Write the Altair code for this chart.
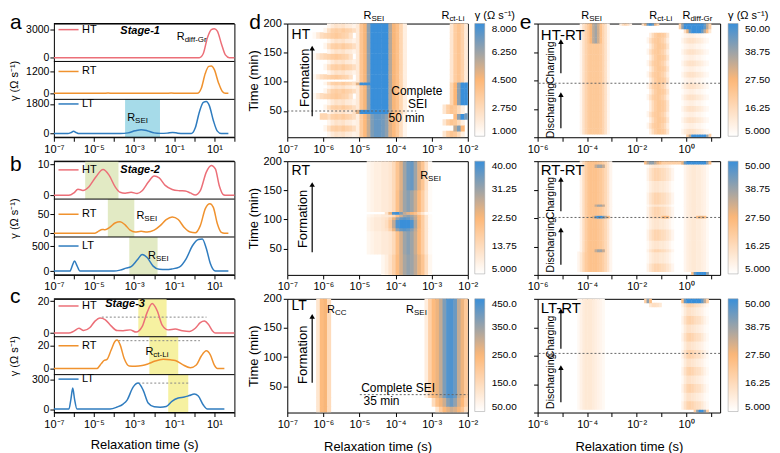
import altair as alt
import pandas as pd

FONT = "Liberation Sans"
WA, WD, WE, H = 181, 181, 183, 114

HT_COLOR, RT_COLOR, LT_COLOR = "#ec6f78", "#f0922e", "#2f7cbf"
CYAN, GREEN, YELLOW = "#a6dbe9", "#e2eac4", "#f6f1a1"

# ===================== a-c : DRT traces  [log10(tau/s), gamma] =====================
A_HT = [[-7, 0], [0.25, 0], [0.45, 450], [0.65, 2100], [0.85, 3000], [1.0, 3100], [1.15, 2850],
        [1.35, 1500], [1.55, 300], [1.75, 0], [2, 0]]
A_RT = [[-7, 0], [-4.55, 0], [-4.3, 18], [-4.05, 0], [-1.45, 0], [-1.15, 22], [-0.85, 0], [0.15, 0],
        [0.35, 280], [0.55, 1100], [0.72, 1480], [0.85, 1500], [1.0, 1300], [1.2, 600], [1.4, 100],
        [1.55, 0], [1.7, 0]]
A_LT = [[-7, 0], [-6.3, 0], [-6.15, 60], [-6.02, 140], [-5.88, 60], [-5.75, 0], [-3.7, 0], [-3.3, 45],
        [-2.95, 170], [-2.65, 240], [-2.35, 180], [-2.0, 45], [-1.7, 15], [-1.35, 30], [-1.08, 75],
        [-0.82, 25], [-0.55, 0], [-0.15, 0], [0.05, 350], [0.25, 1300], [0.45, 1900], [0.6, 1950],
        [0.75, 1700], [0.95, 800], [1.15, 150], [1.35, 0], [1.7, 0]]

B_HT = [[-7, 0], [-6.25, 0], [-6.0, 0.8], [-5.8, 2.0], [-5.55, 1.6], [-5.25, 2.8], [-4.9, 6.0],
        [-4.55, 8.3], [-4.25, 6.5], [-3.95, 2.8], [-3.7, 1.0], [-3.45, 0.7], [-3.15, 1.0], [-2.85, 0.6],
        [-2.6, 1.5], [-2.3, 4.2], [-2.0, 6.2], [-1.75, 5.6], [-1.45, 3.2], [-1.1, 1.9], [-0.75, 1.5],
        [-0.45, 1.4], [-0.2, 0.8], [0.05, 0.1], [0.3, 1.5], [0.6, 7.5], [0.85, 9.6], [1.05, 8.5],
        [1.25, 3.0], [1.45, 0.2], [1.6, 0], [2, 0]]
B_RT = [[-7, 0], [-4.95, 0], [-4.75, 6], [-4.6, 10], [-4.45, 9], [-4.2, 16], [-3.95, 27], [-3.7, 30],
        [-3.45, 22], [-3.2, 8], [-2.95, 3], [-2.65, 5], [-2.35, 3], [-2.0, 8], [-1.7, 20], [-1.4, 36],
        [-1.1, 43], [-0.8, 36], [-0.5, 15], [-0.2, 3], [0.05, 1], [0.3, 20], [0.55, 65], [0.78, 78],
        [0.95, 68], [1.15, 25], [1.35, 2], [1.5, 0], [1.7, 0]]
B_LT = [[-7, 0], [-6.2, 0], [-6.08, 110], [-5.97, 200], [-5.85, 110], [-5.7, 0], [-4.0, 0], [-3.7, 20],
        [-3.4, 60], [-3.15, 90], [-2.85, 220], [-2.6, 330], [-2.35, 270], [-2.05, 100], [-1.75, 35],
        [-1.4, 30], [-1.1, 45], [-0.75, 80], [-0.4, 250], [-0.1, 500], [0.2, 630], [0.4, 640],
        [0.6, 450], [0.8, 150], [1.0, 10], [1.1, 0], [1.7, 0]]

C_HT = [[-7, 0], [-6.25, 0], [-6.0, 1.2], [-5.75, 3.0], [-5.52, 1.6], [-5.2, 3.5], [-4.95, 7.5],
        [-4.7, 9.5], [-4.45, 8.5], [-4.15, 4.5], [-3.85, 1.6], [-3.55, 1.5], [-3.2, 2.0], [-2.9, 0.6],
        [-2.6, 4], [-2.35, 13], [-2.1, 18.5], [-1.85, 14], [-1.6, 5], [-1.3, 2.0], [-0.95, 2.5],
        [-0.6, 1.5], [-0.25, 1.0], [0.05, 3], [0.3, 6.5], [0.5, 7.5], [0.7, 5.5], [0.9, 1.5],
        [1.05, 0], [2, 0]]
C_RT = [[-7, 0], [-4.85, 0], [-4.65, 4], [-4.5, 7], [-4.35, 8], [-4.15, 16], [-3.95, 24], [-3.85, 25],
        [-3.7, 21], [-3.5, 9], [-3.25, 2.2], [-2.95, 2.0], [-2.6, 2.5], [-2.3, 4], [-1.95, 6.5],
        [-1.55, 8], [-1.2, 7.6], [-0.95, 7], [-0.6, 3.5], [-0.2, 0.6], [0.1, 3], [0.35, 11],
        [0.6, 15.5], [0.8, 12], [1.0, 3], [1.15, 0], [1.5, 0]]
C_LT = [[-7, 0], [-6.25, 0], [-6.15, 100], [-6.06, 210], [-5.97, 100], [-5.85, 0], [-4.2, 0],
        [-3.85, 20], [-3.55, 50], [-3.35, 90], [-3.05, 220], [-2.8, 260], [-2.55, 190], [-2.3, 60],
        [-2.0, 22], [-1.7, 18], [-1.4, 25], [-1.1, 80], [-0.8, 110], [-0.5, 120], [-0.25, 135],
        [0.0, 150], [0.2, 130], [0.45, 40], [0.65, 0], [1.5, 0]]

TRACE_DOM = {"a": {"HT": [-400, 3650], "RT": [-330, 1750], "LT": [-220, 2080]},
             "b": {"HT": [-1.2, 11], "RT": [-10, 90], "LT": [-75, 680]},
             "c": {"HT": [-2.3, 21.5], "RT": [-5.5, 28], "LT": [-35, 345]}}
TRACE_TICK = {"a": {"HT": 3000, "RT": 1200, "LT": 1800},
              "b": {"HT": 10, "RT": 50, "LT": 500},
              "c": {"HT": 20, "RT": 20, "LT": 300}}
LEGEND_Y = {"a": {"HT": 3000, "RT": 1200, "LT": 1800},
            "b": {"HT": 8.2, "RT": 50, "LT": 500},
            "c": {"HT": 17, "RT": 20, "LT": 300}}
BOXES = {"a": {"LT": [-3.45, -1.71]},
         "b": {"HT": [-5.44, -3.78], "RT": [-4.31, -2.99], "LT": [-3.24, -1.83]},
         "c": {"HT": [-2.79, -1.38], "RT": [-2.24, -0.80], "LT": [-1.30, -0.30]}}
BOX_COLOR = {"a": CYAN, "b": GREEN, "c": YELLOW}
DOTTED = {"c": {"HT": [-4.61, 0.61, 10], "RT": [-3.78, 0.28, 24.5], "LT": [-2.79, -0.3, 260]}}
STAGE = {"a": ["Stage-1", -2.7, 2900], "b": ["Stage-2", -2.7, 8.3], "c": ["Stage-3", -3.45, 18]}
R_LABELS = {"a": [["HT", -0.48, 2250, "diff-Gr"], ["LT", -2.95, 950, "SEI"]],
            "b": [["RT", -2.49, 45, "SEI"], ["LT", -1.91, 300, "SEI"]],
            "c": [["RT", -2.04, 14.5, "ct-Li"]]}
LETTER_Y = {"a": 5, "b": 10, "c": 4}

# ===================== d : heat maps (cells of 0.1 decade) =====================
D1_SEG = {
    "main": (-5.1, [2.0, 3.8, 4.6, 6.5, 8, 8, 8, 8, 8, 5.8, 4.6, 4.0, 3.0, 1.8]),
    "mainlo": (-5.1, [1.8, 3.5, 4.4, 5.5, 6.8, 7.2, 7.2, 7.0, 6.5, 5.0, 4.3, 3.6, 2.6, 1.5]),
    "mainwd": (-5.2, [2.5, 5.0, 8, 8, 8, 8, 8, 8, 8, 8, 5.8, 4.6, 4.0, 3.0, 1.8]),
    "fa": (-6.0, [1.5, 2.5, 3.2, 3.4, 3.2, 3.5, 3.2, 3.0, 2.6]),
    "fb": (-5.9, [1.5, 2.0, 2.4, 2.2, 2.4, 2.0, 1.9, 1.6]),
    "fc": (-6.3, [1.3, 2.0, 2.6, 2.9, 3.1, 3.4, 3.6, 3.4, 3.2, 3.0, 2.4]),
    "blip": (-6.1, [3.0, 3.0]),
    "rct": (-2.5, [2.2, 3.4, 3.8, 3.2, 2.0]),
    "rctblob": (-2.5, [3.0, 4.5, 6.5, 8, 8]),
    "rctmid": (-2.7, [2.2, 3.3, 3.8, 3.6, 2.8, 1.8]),
    "rctlow": (-2.4, [4.2, 6.5, 8, 7]),
    "rctlow2": (-2.4, [5.5, 6.8, 4.5]),
}
D1_ROWS = [
    (5, 15, ["fb", "mainlo", "rctmid"]), (15, 25, ["fa", "mainlo", "rctlow2"]),
    (25, 35, ["fb", "mainlo", "rctmid"]), (35, 45, ["fa", "mainlo", "rctlow", "blip"]),
    (45, 52, ["fb", "mainwd", "rctmid"]), (52, 60, ["fa", "main", "rctmid"]),
    (60, 70, ["fb", "main", "rctblob"]), (70, 80, ["fc", "main", "rctblob"]),
    (80, 88, ["fa", "main", "rctblob"]), (88, 94, ["fb", "main", "rctblob"]),
    (94, 99, ["fa", "mainwd", "rctblob"]), (99, 104, ["main", "rct"]),
    (104, 112, ["fc", "main", "rct"]), (112, 120, ["fb", "main", "rct"]),
    (120, 130, ["fa", "main", "rct"]), (130, 138, ["fb", "main", "rct"]),
    (138, 148, ["fc", "main", "rct"]), (148, 156, ["fb", "main", "rct"]),
    (156, 166, ["fa", "main", "rct"]), (166, 174, ["fb", "main", "rct"]),
    (174, 184, ["fc", "main", "rct"]), (184, 192, ["fa", "main", "rct"]),
    (192, 200, ["fb", "main", "rct"]),
]
D2_SEG = {
    "band": (-4.8, [7, 8, 9, 9, 10, 10, 11, 14, 20, 26, 31, 33, 31, 27, 22, 17, 11, 6]),
    "top": (-4.8, [7, 8, 9, 9, 10, 10, 11, 14, 19, 25, 31, 35, 36, 31, 25, 19, 12, 6]),
    "mid": (-4.8, [8, 9, 10, 10, 11, 12, 16, 24, 32, 36, 37, 36, 33, 28, 22, 17, 11, 6]),
    "blob": (-4.8, [8, 9, 10, 10, 11, 13, 18, 28, 38, 40, 40, 40, 38, 30, 23, 17, 11, 6]),
    "streak": (-4.3, [12, 24, 38, 40, 34, 28, 25, 23, 20, 16, 11, 6]),
    "low": (-4.4, [7, 9, 12, 16, 21, 26, 30, 32, 31, 28, 24, 19, 13, 7]),
}
D2_ROWS = [(5, 40, ["low"]), (40, 80, ["band"]), (80, 85, ["mid"]), (85, 99, ["blob"]),
           (99, 104, ["mid"]), (104, 108, ["band"]), (108, 113, ["streak"]), (113, 150, ["band"]),
           (150, 200, ["top"])]
D3_SEG = {
    "cc": (-6.2, [120, 240, 255, 150]),
    "sei": (-3.2, [100, 180, 240, 265, 310, 380, 425, 430, 400, 310, 265, 200]),
    "seilo": (-3.0, [150, 220, 260, 300, 370, 400, 360, 290, 250, 180]),
    "seilo2": (-2.9, [120, 190, 245, 275, 300, 285, 255, 210, 140]),
}
D3_ROWS = [(5, 15, ["cc", "seilo2"]), (15, 30, ["cc", "seilo"]), (30, 200, ["cc", "sei"])]

# ===================== e : heat maps =====================
E1_SEG = {
    "sei": (-4.3, [8, 14, 18, 21, 22, 22, 22, 22, 21, 18, 14, 8]),
    "seit": (-4.3, [8, 14, 18, 22, 28, 35, 38, 33, 24, 18, 14, 8]),
    "sei2": (-2.7, [10, 16, 18, 15, 9]),
    "rct": (-1.5, [10, 16, 20, 22, 22, 21, 19, 13]),
    "rctw": (-1.6, [8, 14, 19, 21, 22, 21, 19, 16, 10]),
    "rctt": (-1.8, [15, 30, 45, 50, 45, 30, 18]),
    "difs": (-0.2, [8, 11, 13, 14, 14, 13, 12, 11, 10, 8, 7]),
    "difw": (-0.2, [6, 8, 9, 10, 10, 9, 8, 8, 7, 6, 5]),
    "blob": (-0.3, [20, 40, 50, 50, 50, 50, 50, 50, 50, 50, 45, 35, 20]),
    "bloblo": (-0.1, [15, 30, 45, 50, 50, 50, 50, 45, 35, 25, 12]),
    "bot": (0.0, [20, 35, 50, 50, 50, 50, 50, 50, 40, 20]),
}
E1_ROWS = [
    (0, 5, ["bot"]), (5, 15, ["sei", "rct", "difs"]), (15, 25, ["sei", "rctw", "difw"]),
    (25, 35, ["sei", "rct", "difs"]), (35, 45, ["sei", "rctw", "difw"]), (45, 55, ["sei", "rct", "difs"]),
    (55, 65, ["sei", "rct", "difw"]), (65, 75, ["sei", "rctw", "difs"]), (75, 85, ["sei", "rct", "difw"]),
    (85, 95, ["sei", "rctw", "difs"]), (95, 105, ["sei", "rct", "difw"]), (105, 115, ["sei", "rctw", "difs"]),
    (115, 125, ["sei", "rct", "difw"]), (125, 135, ["sei", "rctw", "difs"]), (135, 145, ["sei", "rct", "difw"]),
    (145, 155, ["sei", "rctw", "difs"]), (155, 165, ["sei", "rct", "difw"]), (165, 175, ["seit", "rctw", "difs"]),
    (175, 183, ["seit", "rct", "difw"]), (183, 190, ["seit", "bloblo"]), (190, 196, ["seit", "blob"]),
    (196, 200, ["seit", "sei2", "rctt", "blob"]),
]
E2_SEG = {
    "sei": (-4.3, [9, 15, 20, 23, 24, 24, 24, 23, 22, 20, 17, 13, 8]),
    "seiw": (-4.4, [8, 12, 17, 21, 23, 24, 24, 24, 23, 22, 20, 17, 13, 8]),
    "blue": (-3.8, [30, 45, 50, 50, 45, 35, 25]),
    "gray": (-3.7, [34, 38, 38, 34]),
    "rct": (-1.6, [9, 13, 16, 18, 18, 17, 16, 15, 13, 11, 8]),
    "rctw": (-1.6, [7, 10, 12, 13, 13, 12, 12, 11, 10, 8, 6]),
    "dif": (-0.1, [8, 10, 11, 12, 12, 11, 11, 10, 9, 7]),
    "spot1": (-1.0, [25, 28, 25]),
    "spot2": (0.4, [25, 30, 30, 25]),
    "strip": (-1.7, [25, 35, 40, 40, 35, 30, 25, 20, 20, 20, 20, 20, 20, 20, 20, 20, 25]),
    "blob": (-0.2, [30, 45, 50, 50, 50, 50, 50, 50, 50, 50, 40, 25]),
    "bot": (0.2, [25, 45, 50, 50, 50, 50, 40]),
}
E2_ROWS = [
    (0, 5, ["bot"]), (5, 20, ["seiw", "rct", "dif"]), (20, 40, ["seiw", "rctw", "dif"]),
    (40, 45, ["sei", "gray", "rct", "dif"]), (45, 60, ["sei", "rctw", "dif"]), (60, 80, ["sei", "rct", "dif"]),
    (80, 99, ["sei", "rctw", "dif"]), (99, 104, ["sei", "blue", "rct", "spot1", "dif", "spot2"]),
    (104, 120, ["sei", "rct", "dif"]), (120, 124, ["sei", "gray", "rctw", "dif"]),
    (124, 145, ["sei", "rct", "dif"]), (145, 165, ["sei", "rctw", "dif"]), (165, 188, ["sei", "rct", "dif"]),
    (188, 194, ["sei", "gray", "rctw", "dif"]), (194, 200, ["sei", "strip", "blob"]),
]
E3_SEG = {
    "sei": (-4.4, [7, 9, 11, 12, 12, 12, 11, 10, 9, 8, 7]),
    "dif": (-0.2, [9, 14, 18, 19, 18, 16, 15, 14, 12, 9, 7]),
    "difw": (-0.2, [7, 11, 14, 14, 13, 12, 11, 10, 9, 7, 6]),
    "blob": (-0.2, [25, 45, 50, 50, 50, 50, 50, 50, 45, 35, 20]),
    "bot": (0.3, [20, 40, 50, 50, 40, 20]),
    "rctt": (-1.7, [20, 40, 25]),
    "rctt2": (-1.5, [12, 15, 15, 14, 12]),
}
E3_ROWS = [
    (0, 5, ["bot"]), (5, 20, ["sei", "dif"]), (20, 35, ["sei", "difw"]), (35, 50, ["sei", "dif"]),
    (50, 65, ["sei", "difw"]), (65, 80, ["sei", "dif"]), (80, 95, ["sei", "difw"]), (95, 110, ["sei", "dif"]),
    (110, 125, ["sei", "difw"]), (125, 140, ["sei", "dif"]), (140, 155, ["sei", "difw"]),
    (155, 170, ["sei", "dif"]), (170, 185, ["sei", "difw"]), (185, 192, ["sei", "rctt2", "dif"]),
    (192, 200, ["sei", "rctt", "blob"]),
]

CDOM = {"d1": [1, 4.5, 8], "d2": [5, 22.5, 40], "d3": [50, 250, 450], "e": [5, 27.5, 50]}
CTICKS = {"d1": [1, 2.75, 4.5, 6.25, 8], "d2": [5, 13.75, 22.5, 31.25, 40],
          "d3": [50, 150, 250, 350, 450], "e": [5, 16.25, 27.5, 38.75, 50]}
CRANGE = ["#ffffff", "#fdb777", "#3a8fd9"]
GAMMA = "γ (Ω s⁻¹)"

# annotations: (text, log10 tau, time, size, angle, align)
NOTES = {
    "d1": dict(texts=[("HT", -6.88, 180, 14, 0, "left"), ("Formation", -6.51, 107, 13, 270, "center"),
                      ("Complete", -3.41, 84, 12, 0, "center"), ("SEI", -3.39, 62.5, 12, 0, "center"),
                      ("50 min", -3.70, 37.6, 12, 0, "center")],
               rlabels=[(-4.67, 213.5, "SEI"), (-2.51, 213.5, "ct-Li")], arrows=[(-6.31, 41, 158)],
               dotted=[(-7, -3.43, 50)], full=[]),
    "d2": dict(texts=[("RT", -6.88, 184, 14, 0, "left"), ("Formation", -6.56, 101, 13, 270, "center")],
               rlabels=[(-3.1, 174.5, "SEI")], arrows=[(-6.31, 44, 160)], dotted=[], full=[]),
    "d3": dict(texts=[("LT", -6.88, 187, 14, 0, "left"), ("Formation", -6.56, 104, 13, 270, "center"),
                      ("Complete SEI", -3.93, 47, 12, 0, "center"), ("35 min", -4.39, 24, 12, 0, "center")],
               rlabels=[(-5.68, 180.5, "CC"), (-3.49, 180.5, "SEI")], arrows=[(-6.31, 56, 170)],
               dotted=[(-4.99, -2.0, 35.7)], full=[]),
    "e1": dict(texts=[("HT-RT", -5.87, 180, 15, 0, "left"), ("Charging", -5.44, 131, 10.5, 270, "center"),
                      ("Discharging", -5.44, 47, 10.5, 270, "center")],
               rlabels=[(-3.92, 214, "SEI"), (-1.17, 214, "ct-Li"), (0.17, 214, "diff-Gr")],
               arrows=[(-5.06, 112.5, 168), (-5.06, 16, 75)], dotted=[], full=[95]),
    "e2": dict(texts=[("RT-RT", -5.87, 184, 15, 0, "left"), ("Charging", -5.44, 135, 10.5, 270, "center"),
                      ("Discharging", -5.44, 53, 10.5, 270, "center")],
               rlabels=[], arrows=[(-5.06, 112, 168), (-5.06, 18, 79)], dotted=[], full=[101]),
    "e3": dict(texts=[("LT-RT", -5.87, 184, 15, 0, "left"), ("Charging", -5.44, 133, 10.5, 270, "center"),
                      ("Discharging", -5.44, 55, 10.5, 270, "center")],
               rlabels=[], arrows=[(-5.06, 112, 179), (-5.06, 18, 79)], dotted=[], full=[104]),
}

# ===================== helpers =====================
SUP = str.maketrans("-0123456789", "⁻⁰¹²³⁴⁵⁶⁷⁸⁹")


def label_expr(shown):
    shown = list(shown)
    arr = ",".join("'10%s'" % str(e).translate(SUP) if e in shown else "''" for e in range(-8, 4))
    return "[" + arr + "][round(log(datum.value)/LN10)+8]"


class Ctx:
    """scales + axes shared by every layer of one panel"""

    def __init__(self, xs, ys, xax, yax):
        self.xs, self.ys, self.xax, self.yax = xs, ys, xax, yax

    def X(self, f):
        return alt.X(f, scale=self.xs, axis=self.xax)

    def Y(self, f):
        return alt.Y(f, scale=self.ys, axis=self.yax)


def txt(c, xe, y, s, size=11, **kw):
    df = pd.DataFrame({"x": [10.0 ** xe], "y": [y], "s": [s]})
    return alt.Chart(df).mark_text(fontSize=size, font=FONT, color="black", **kw).encode(
        x=c.X("x:Q"), y=c.Y("y:Q"), text="s:N")


def rlab(c, xe, y, sub, size=11):
    return [txt(c, xe, y, "R", size, align="right"),
            txt(c, xe, y, sub, 8, align="left", dy=3)]


def hrule(c, x0, x1, y, **kw):
    df = pd.DataFrame({"x": [10.0 ** x0], "x2": [10.0 ** x1], "y": [y]})
    return alt.Chart(df).mark_rule(**kw).encode(x=c.X("x:Q"), x2="x2:Q", y=c.Y("y:Q"))


def fullrule(c, y, **kw):
    df = pd.DataFrame({"y": [y]})
    return alt.Chart(df).mark_rule(**kw).encode(y=c.Y("y:Q"))


def arrow(c, xe, t0, t1):
    df = pd.DataFrame({"x": [10.0 ** xe], "y": [t0], "y2": [t1]})
    line = alt.Chart(df).mark_rule(color="black", strokeWidth=1.2).encode(
        x=c.X("x:Q"), y=c.Y("y:Q"), y2="y2:Q")
    head = alt.Chart(df).mark_point(shape="triangle-up", filled=True, size=30, color="black",
                                    opacity=1).encode(x=c.X("x:Q"), y=c.Y("y2:Q"))
    return [line, head]


LETTER_SIZE = 21


def letter(s, px, py, opacity=1):
    df = pd.DataFrame({"s": [s]})
    return alt.Chart(df).mark_text(fontSize=LETTER_SIZE, font=FONT, align="left", baseline="alphabetic",
                                   color="black", opacity=opacity).encode(
        x=alt.value(px), y=alt.value(py), text="s:N")


SPACER_Y = 5   # invisible text that gives every column the same top edge

RANGES = {"HT": [38, 0], "RT": [76, 38], "LT": [114, 76]}


def trace_group(key, traces, xtitle):
    xs = alt.Scale(type="log", domain=[1e-7, 1e2], nice=False)
    xax = alt.Axis(values=[10.0 ** e for e in range(-7, 3)], labelExpr=label_expr([-7, -5, -3, -1, 1]),
                   title=xtitle, labelFlush=False, labelOverlap=False, titleFontSize=13, titlePadding=9)
    subs = []
    for name, pts, color in traces:
        lo, hi = TRACE_DOM[key][name]
        ys = alt.Scale(domain=[lo, hi], range=RANGES[name], nice=False, zero=False)
        common = dict(orient="left", values=[0, TRACE_TICK[key][name]], format="d", labelPadding=1,
                      labelFontSize=10.5)
        if name == "RT":
            yax = alt.Axis(title=GAMMA, titleX=-34, titleY=57, titleFontSize=11, **common)
        else:
            yax = alt.Axis(title=None, **common)
        c = Ctx(xs, ys, xax, yax)
        L = []
        if name in BOXES[key]:
            b = BOXES[key][name]
            df = pd.DataFrame({"x": [10.0 ** b[0]], "x2": [10.0 ** b[1]], "y": [hi], "y2": [lo]})
            L.append(alt.Chart(df).mark_rect(color=BOX_COLOR[key]).encode(
                x=c.X("x:Q"), x2="x2:Q", y=c.Y("y:Q"), y2="y2:Q"))
        if key in DOTTED:
            d = DOTTED[key][name]
            L.append(hrule(c, d[0], d[1], d[2], color="#888888", strokeDash=[2, 2], strokeWidth=1))
        df = pd.DataFrame({"x": [10.0 ** p[0] for p in pts], "y": [p[1] for p in pts]})
        L.append(alt.Chart(df).mark_line(color=color, strokeWidth=1.5, interpolate="monotone").encode(
            x=c.X("x:Q"), y=c.Y("y:Q")))
        ly = LEGEND_Y[key][name]
        L.append(hrule(c, -6.77, -5.77, ly, color=color, strokeWidth=1.5))
        L.append(txt(c, -5.6, ly, name, 11, align="left"))
        if name == "HT":
            s, xe, y = STAGE[key]
            L.append(txt(c, xe, y, s, 11, fontStyle="italic", fontWeight="bold"))
        for sub, xe, y, lab in R_LABELS[key]:
            if sub == name:
                L += rlab(c, xe, y, lab)
        L.append(fullrule(c, hi, color="black", strokeWidth=1))
        if name == "LT":
            L.append(fullrule(c, lo, color="black", strokeWidth=1))
        subs.append(alt.layer(*L))
    subs.append(letter(key, -44, LETTER_Y[key]))
    if key == "a":
        subs.append(letter("a", 0, SPACER_Y, opacity=0))
    return alt.layer(*subs).resolve_scale(y="independent").properties(width=WA, height=H)


XS_D = alt.Scale(type="log", domain=[1e-7, 1e-2], nice=False)
YS_D = alt.Scale(domain=[5, 200], nice=False, zero=False)
XS_E = alt.Scale(type="log", domain=[1e-6, 10 ** 1.37], nice=False)
YS_E = alt.Scale(domain=[0, 200], nice=False, zero=False)


def heat(key, kind, rows, segs, ckey, legtitle, legY, xtitle, let=None):
    if kind == "D":
        xs, ys, width, legX = XS_D, YS_D, WD, 188
        xax = alt.Axis(values=[10.0 ** e for e in range(-7, -1)], labelExpr=label_expr(range(-7, -1)),
                       title=xtitle, labelFlush=False, labelOverlap=False, titleFontSize=13, titlePadding=11)
        yax = alt.Axis(values=[50, 100, 150, 200], title="Time (min)", titleFontSize=13, titlePadding=2)
    else:
        xs, ys, width, legX = XS_E, YS_E, WE, 191
        xax = alt.Axis(values=[10.0 ** e for e in range(-6, 2)], labelExpr=label_expr([-6, -4, -2, 0]),
                       title=xtitle, labelFlush=False, labelOverlap=False, titleFontSize=13, titlePadding=11)
        yax = alt.Axis(values=[0, 50, 100, 150, 200], labels=False, title=None)
    c = Ctx(xs, ys, xax, yax)
    recs = []
    for t0, t1, names in rows:
        for nm in names:
            e0, vals = segs[nm]
            for i, v in enumerate(vals):
                e = e0 + 0.1 * i
                # cells overlap their right / upper neighbour slightly so no hairline seams show
                recs.append({"x": 10.0 ** e, "x2": 10.0 ** (e + 0.115), "y": t0, "y2": t1 + 1.0, "v": v})
    df = pd.DataFrame(recs)
    csc = alt.Scale(domain=CDOM[ckey], range=CRANGE, interpolate="rgb", clamp=True)
    legkw = dict(type="gradient", orient="none", legendX=legX, legendY=legY, direction="vertical",
                 gradientLength=113, gradientThickness=10, values=CTICKS[ckey], format=".4r",
                 labelFontSize=10, labelOffset=7, labelFont=FONT, gradientStrokeColor="#999999",
                 gradientStrokeWidth=0.5, labelOverlap=False)
    if legtitle:
        leg = alt.Legend(title=legtitle, titleFontSize=11, titleFont=FONT, titleFontWeight="normal",
                         titlePadding=3, **legkw)
    else:
        leg = alt.Legend(title=None, **legkw)
    cells = alt.Chart(df).mark_rect(clip=True).encode(
        x=c.X("x:Q"), x2="x2:Q", y=c.Y("y:Q"), y2="y2:Q",
        color=alt.Color("v:Q", scale=csc, legend=leg))
    N = NOTES[key]
    L = [cells]
    for y in N["full"]:
        L.append(fullrule(c, y, color="#666666", strokeDash=[2, 2], strokeWidth=1))
    for x0, x1, y in N["dotted"]:
        L.append(hrule(c, x0, x1, y, color="#666666", strokeDash=[2, 2], strokeWidth=1))
    for s, xe, y, size, ang, al in N["texts"]:
        L.append(txt(c, xe, y, s, size, angle=ang, align=al))
    for xe, y, sub in N["rlabels"]:
        L += rlab(c, xe, y, sub)
    for xe, t0, t1 in N["arrows"]:
        L += arrow(c, xe, t0, t1)
    if let:
        L.append(letter(let[0], let[1], let[2]))
        L.append(letter(let[0], 0, SPACER_Y, opacity=0))
    return alt.layer(*L).properties(width=width, height=H)


RES = dict(color="independent")

colA = alt.vconcat(
    trace_group("a", [("HT", A_HT, HT_COLOR), ("RT", A_RT, RT_COLOR), ("LT", A_LT, LT_COLOR)], None),
    trace_group("b", [("HT", B_HT, HT_COLOR), ("RT", B_RT, RT_COLOR), ("LT", B_LT, LT_COLOR)], None),
    trace_group("c", [("HT", C_HT, HT_COLOR), ("RT", C_RT, RT_COLOR), ("LT", C_LT, LT_COLOR)],
                "Relaxation time (s)"),
    spacing=24, bounds="flush")

colD = alt.vconcat(
    heat("d1", "D", D1_ROWS, D1_SEG, "d1", GAMMA, -14, None, ("d", -38, 5)),
    heat("d2", "D", D2_ROWS, D2_SEG, "d2", None, 0, None),
    heat("d3", "D", D3_ROWS, D3_SEG, "d3", None, 0, "Relaxation time (s)"),
    spacing=24, bounds="flush").resolve_scale(**RES)

colE = alt.vconcat(
    heat("e1", "E", E1_ROWS, E1_SEG, "e", GAMMA, -14, None, ("e", -18, 5)),
    heat("e2", "E", E2_ROWS, E2_SEG, "e", None, 0, None),
    heat("e3", "E", E3_ROWS, E3_SEG, "e", None, 0, "Relaxation time (s)"),
    spacing=24, bounds="flush").resolve_scale(**RES)

chart = alt.hconcat(colA, alt.hconcat(colD, colE, spacing=0).resolve_scale(**RES), spacing=9).resolve_scale(
    **RES).properties(padding={"left": 0, "top": 0, "right": 0, "bottom": 0}, background="white").configure(
    font=FONT).configure_view(stroke="black", strokeWidth=1).configure_axis(
    labelFont=FONT, titleFont=FONT, labelFontSize=11, titleFontSize=12, grid=False, domain=False,
    tickColor="black", tickSize=4, labelColor="black", titleColor="black", titleFontWeight="normal",
    labelPadding=2).configure_legend(labelColor="black", titleColor="black")

chart.save("out.html", embed_options={"renderer": "svg", "actions": False})
